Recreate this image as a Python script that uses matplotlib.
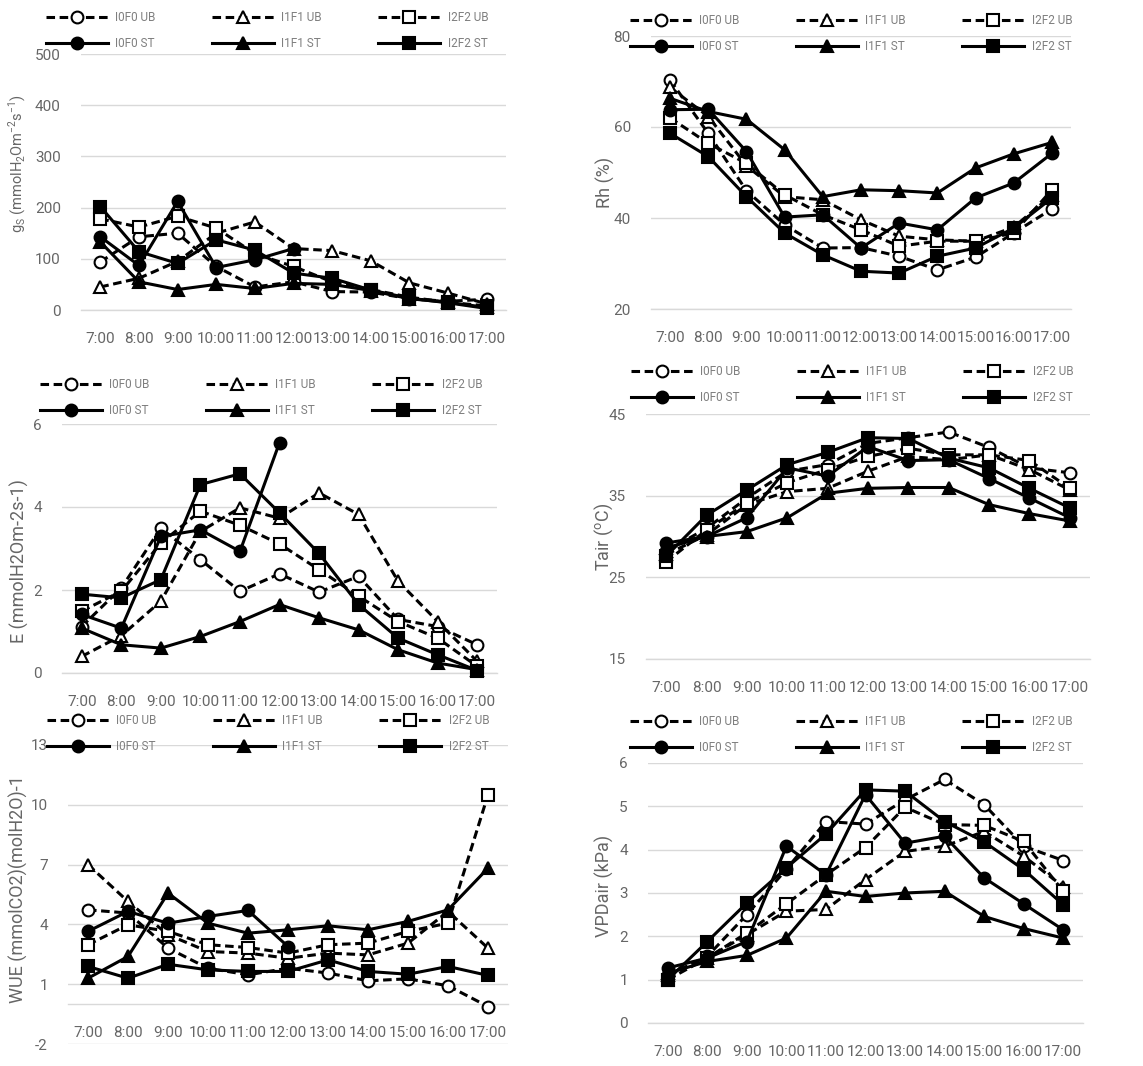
import numpy as np
import matplotlib
matplotlib.use('Agg')
import matplotlib.pyplot as plt

plt.rcParams['font.family'] = ['Roboto', 'DejaVu Sans']
plt.rcParams['axes.unicode_minus'] = False

hours = ['7:00', '8:00', '9:00', '10:00', '11:00', '12:00',
         '13:00', '14:00', '15:00', '16:00', '17:00']
nan = np.nan

# stomatal conductance gs
gs_i0f0_ub = [94, 143, 150, 85, 45, 55, 36, 35, 22, 17, 21]
gs_i1f1_ub = [45, 62, 95, 150, 172, 120, 116, 96, 53, 33, 12]
gs_i2f2_ub = [178, 162, 183, 160, 110, 85, 55, 40, 25, 15, 8]
gs_i0f0_st = [143, 87, 212, 83, 98, 120, nan, nan, nan, nan, nan]
gs_i1f1_st = [133, 55, 40, 50, 42, 52, 50, 38, 22, 15, 5]
gs_i2f2_st = [202, 114, 91, 137, 117, 72, 62, 39, 23, 14, 3]

# relative humidity
rh_i0f0_ub = [70.3, 58.6, 46.0, 38.5, 33.4, 33.5, 31.6, 28.6, 31.4, 36.7, 42.0]
rh_i1f1_ub = [68.7, 62.3, 51.5, 44.7, 44.0, 39.6, 36.0, 35.2, 34.9, 38.0, 45.0]
rh_i2f2_ub = [62.0, 56.4, 52.0, 45.1, 40.7, 37.4, 33.8, 34.9, 34.9, 36.7, 46.2]
rh_i0f0_st = [63.8, 63.9, 54.6, 40.2, 40.7, 33.4, 38.9, 37.4, 44.4, 47.7, 54.2]
rh_i1f1_st = [66.3, 63.4, 61.7, 55.0, 44.7, 46.2, 46.0, 45.5, 51.0, 54.1, 56.6]
rh_i2f2_st = [58.6, 53.5, 44.7, 36.7, 31.9, 28.3, 27.9, 31.6, 33.4, 37.8, 44.4]

# transpiration E
e_i0f0_ub = [1.12, 2.05, 3.49, 2.73, 1.97, 2.39, 1.95, 2.33, 1.29, 1.12, 0.68]
e_i1f1_ub = [0.40, 0.90, 1.73, 3.41, 3.98, 3.73, 4.34, 3.82, 2.21, 1.24, 0.28]
e_i2f2_ub = [1.49, 1.97, 3.13, 3.90, 3.56, 3.11, 2.49, 1.85, 1.24, 0.84, 0.16]
e_i0f0_st = [1.41, 1.08, 3.29, 3.45, 2.93, 5.55, nan, nan, nan, nan, nan]
e_i1f1_st = [1.08, 0.68, 0.60, 0.88, 1.24, 1.65, 1.33, 1.04, 0.56, 0.24, 0.08]
e_i2f2_st = [1.90, 1.81, 2.25, 4.54, 4.80, 3.86, 2.88, 1.65, 0.84, 0.44, 0.06]

# air temperature
ta_i0f0_ub = [28.2, 31.0, 34.7, 38.0, 38.8, 41.4, 42.1, 42.8, 40.9, 38.4, 37.8]
ta_i1f1_ub = [27.8, 30.2, 33.9, 35.5, 35.9, 38.0, 39.8, 39.4, 40.0, 38.2, 35.7]
ta_i2f2_ub = [26.9, 30.8, 34.1, 36.6, 38.2, 39.8, 40.8, 40.0, 40.0, 39.3, 35.9]
ta_i0f0_st = [29.2, 30.0, 32.3, 38.4, 37.4, 41.0, 39.3, 39.4, 37.1, 34.7, 32.3]
ta_i1f1_st = [28.6, 30.0, 30.6, 32.3, 35.3, 35.9, 36.0, 36.0, 33.9, 32.8, 31.9]
ta_i2f2_st = [27.6, 32.6, 35.7, 38.8, 40.3, 42.1, 42.0, 39.6, 38.4, 35.9, 33.5]

# water use efficiency
wue_i0f0_ub = [4.73, 4.57, 2.81, 1.80, 1.47, 1.80, 1.56, 1.17, 1.27, 0.92, -0.12]
wue_i1f1_ub = [7.00, 5.15, 3.48, 2.64, 2.56, 2.30, 2.56, 2.47, 3.06, 4.65, 2.81]
wue_i2f2_ub = [2.98, 3.98, 3.65, 2.98, 2.84, 2.56, 2.98, 3.06, 3.65, 4.06, 10.5]
wue_i0f0_st = [3.65, 4.65, 4.06, 4.40, 4.70, 2.89, nan, nan, nan, nan, nan]
wue_i1f1_st = [1.30, 2.39, 5.57, 4.06, 3.56, 3.73, 3.93, 3.73, 4.15, 4.73, 6.82]
wue_i2f2_st = [1.89, 1.30, 2.00, 1.72, 1.64, 1.64, 2.22, 1.64, 1.50, 1.89, 1.44]

# vapour pressure deficit
vpd_i0f0_ub = [1.10, 1.54, 2.50, 3.55, 4.65, 4.59, 5.15, 5.62, 5.04, 4.08, 3.75]
vpd_i1f1_ub = [1.10, 1.50, 2.04, 2.58, 2.62, 3.31, 3.96, 4.08, 4.42, 3.85, 3.15]
vpd_i2f2_ub = [1.00, 1.50, 2.08, 2.75, 3.42, 4.05, 4.98, 4.58, 4.56, 4.19, 3.04]
vpd_i0f0_st = [1.27, 1.50, 1.88, 4.08, 3.42, 5.27, 4.15, 4.31, 3.35, 2.75, 2.15]
vpd_i1f1_st = [1.15, 1.42, 1.56, 1.96, 3.04, 2.92, 3.00, 3.04, 2.46, 2.18, 1.96]
vpd_i2f2_st = [1.00, 1.88, 2.77, 3.58, 4.36, 5.38, 5.35, 4.65, 4.18, 3.54, 2.73]

series = [('I0F0 UB', 'o', False), ('I1F1 UB', '^', False), ('I2F2 UB', 's', False),
          ('I0F0 ST', 'o', True), ('I1F1 ST', '^', True), ('I2F2 ST', 's', True)]

panels = [
    ([gs_i0f0_ub, gs_i1f1_ub, gs_i2f2_ub, gs_i0f0_st, gs_i1f1_st, gs_i2f2_st],
     [0, 100, 200, 300, 400, 500],
     r'g$_\mathregular{S}$ (mmolH$_\mathregular{2}$Om$^\mathregular{-2}$s$^\mathregular{-1}$)'),
    ([rh_i0f0_ub, rh_i1f1_ub, rh_i2f2_ub, rh_i0f0_st, rh_i1f1_st, rh_i2f2_st],
     [20, 40, 60, 80], 'Rh (%)'),
    ([e_i0f0_ub, e_i1f1_ub, e_i2f2_ub, e_i0f0_st, e_i1f1_st, e_i2f2_st],
     [0, 2, 4, 6], 'E (mmolH2Om-2s-1)'),
    ([ta_i0f0_ub, ta_i1f1_ub, ta_i2f2_ub, ta_i0f0_st, ta_i1f1_st, ta_i2f2_st],
     [15, 25, 35, 45], r'Tair ($^\mathregular{o}$C)'),
    ([wue_i0f0_ub, wue_i1f1_ub, wue_i2f2_ub, wue_i0f0_st, wue_i1f1_st, wue_i2f2_st],
     [-2, 1, 4, 7, 10, 13], 'WUE (mmolCO2)(molH2O)-1'),
    ([vpd_i0f0_ub, vpd_i1f1_ub, vpd_i2f2_ub, vpd_i0f0_st, vpd_i1f1_st, vpd_i2f2_st],
     [0, 1, 2, 3, 4, 5, 6], 'VPDair (kPa)'),
]

# pixel layout: x0, x1, ytop, ybot, ylabel x, ylabel y, ylabel size, legend x, legend row1 y
layout = [
    (81, 506, 54, 310, 17, 164, 10.5, 46, 18),
    (651, 1071, 36, 309, 605, 182, 13, 630, 21),
    (62, 497, 424, 673, 19, 561, 13, 40, 385),
    (646, 1090, 414, 659, 604, 537, 13, 631, 372),
    (68, 508, 745, 1044, 18, 889, 13, 47, 721),
    (648, 1083, 763, 1023, 604, 886, 13, 630, 722),
]

W, H = 1143, 1066
fig = plt.figure(figsize=(W / 100, H / 100), dpi=100)
grey = '#d9d9d9'
txt = '#666666'
x = np.arange(len(hours))

for i, (data, yticks, ylabel) in enumerate(panels):
    x0, x1, yt, yb, lx, ly, lsize, gx, gy = layout[i]
    ax = fig.add_axes([x0 / W, 1 - yb / H, (x1 - x0) / W, (yb - yt) / H])
    lines = {}
    for vals, (name, mk, filled) in zip(data, series):
        ln, = ax.plot(x, vals, color='black', lw=2.2,
                      ls='-' if filled else (0, (2.8, 1.5)),
                      marker=mk, ms=8.5 if mk != 's' else 8, mew=1.5,
                      mfc='black' if filled else 'white', mec='black',
                      clip_on=False, label=name, zorder=3)
        lines[name] = ln
    ax.set_xlim(-0.5, len(hours) - 0.5)
    ax.set_ylim(yticks[0], yticks[-1])
    ax.set_yticks(yticks)
    ax.set_xticks(x)
    ax.set_xticklabels(hours)
    for s in ['top', 'right', 'left']:
        ax.spines[s].set_visible(False)
    ax.spines['bottom'].set_color(grey)
    ax.spines['bottom'].set_linewidth(1.0)
    if yticks[0] < 0:
        ax.spines['bottom'].set_position(('data', 0))
    ax.grid(axis='y', color=grey, lw=1.0)
    ax.set_axisbelow(True)
    ax.tick_params(axis='both', length=0, labelsize=11, labelcolor=txt)
    ax.tick_params(axis='y', pad=14.5)
    ax.tick_params(axis='x', pad=16)
    ax.set_ylabel(ylabel, fontsize=lsize, color=txt, va='center')
    ax.yaxis.set_label_coords((lx - x0) / (x1 - x0), (yb - ly) / (yb - yt))

    order = ['I0F0 UB', 'I0F0 ST', 'I1F1 UB', 'I1F1 ST', 'I2F2 UB', 'I2F2 ST']
    leg = ax.legend([lines[n] for n in order], order, ncol=3, frameon=False,
                    loc='upper left', bbox_to_anchor=(gx / W, 1 - (gy - 7) / H),
                    bbox_transform=fig.transFigure, borderpad=0, borderaxespad=0,
                    handlelength=5.25, handletextpad=0.6, columnspacing=4.8,
                    labelspacing=1.1, fontsize=8.5, numpoints=1)
    for t in leg.get_texts():
        t.set_color('#7f7f7f')

fig.savefig('out.png', dpi=100)
